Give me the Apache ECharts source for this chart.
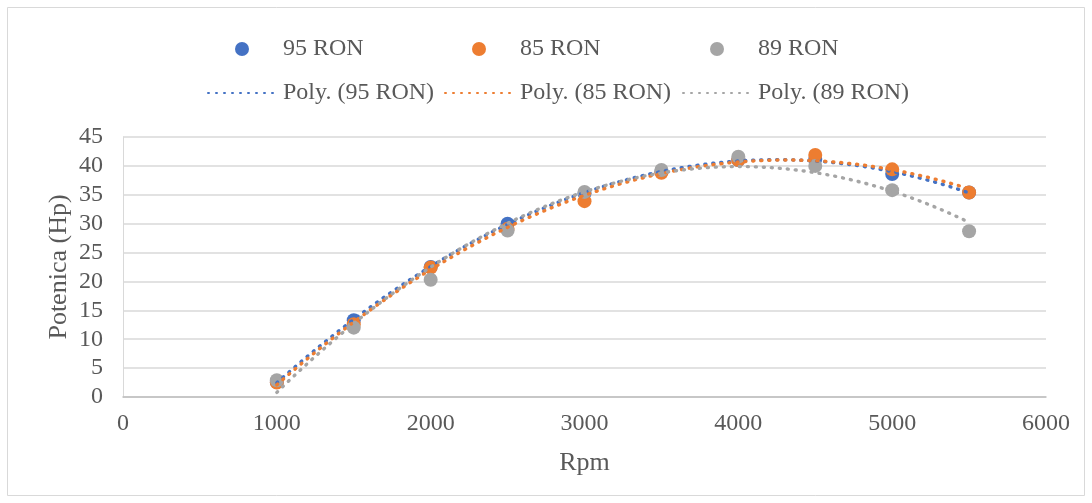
<!DOCTYPE html>
<html>
<head>
<meta charset="utf-8">
<script src="https://cdn.jsdelivr.net/npm/echarts@6/dist/echarts.min.js"></script>
<style>
  html, body { margin: 0; padding: 0; background: #fff; }
  #chart { width: 1092px; height: 503px; }
</style>
</head>
<body>
<div id="chart"></div>
<script>
// Engine speed (rpm) and measured power (Hp) for three fuel grades
const rpm = [1000, 1500, 2000, 2500, 3000, 3500, 4000, 4500, 5000, 5500];
const ron95 = [2.6, 13.3, 22.5, 30.0, 35.2, 39.0, 41.0, 41.2, 38.6, 35.4];
const ron85 = [2.5, 12.6, 22.4, 29.1, 33.9, 38.8, 41.0, 41.9, 39.4, 35.4];
const ron89 = [2.9, 12.0, 20.3, 28.8, 35.5, 39.3, 41.6, 40.0, 35.8, 28.7];

const xTicks = [0, 1000, 2000, 3000, 4000, 5000, 6000];
const yTicks = [0, 5, 10, 15, 20, 25, 30, 35, 40, 45];

const seriesNames = ['95 RON', '85 RON', '89 RON'];
const trendNames = ['Poly. (95 RON)', 'Poly. (85 RON)', 'Poly. (89 RON)'];
const colors = ['#4472C4', '#ED7D31', '#A5A5A5'];

// Least-squares 2nd order polynomial fit, returns [a0, a1, a2]
function polyFit2(xs, ys) {
  const n = xs.length;
  let s = [0, 0, 0, 0, 0], t = [0, 0, 0];
  for (let i = 0; i < n; i++) {
    const x = xs[i] / 1000, y = ys[i];
    let p = 1;
    for (let k = 0; k < 5; k++) { s[k] += p; if (k < 3) t[k] += p * y; p *= x; }
  }
  const A = [[s[0], s[1], s[2], t[0]], [s[1], s[2], s[3], t[1]], [s[2], s[3], s[4], t[2]]];
  for (let c = 0; c < 3; c++) {
    for (let r = c + 1; r < 3; r++) {
      const f = A[r][c] / A[c][c];
      for (let k = c; k < 4; k++) A[r][k] -= f * A[c][k];
    }
  }
  const a = [0, 0, 0];
  for (let r = 2; r >= 0; r--) {
    let v = A[r][3];
    for (let k = r + 1; k < 3; k++) v -= A[r][k] * a[k];
    a[r] = v / A[r][r];
  }
  return a;
}

function trendPoints(xs, ys) {
  const a = polyFit2(xs, ys);
  const pts = [];
  for (let x = xs[0]; x <= xs[xs.length - 1]; x += 25) {
    const u = x / 1000;
    pts.push([x, a[0] + a[1] * u + a[2] * u * u]);
  }
  return pts;
}

const values = [ron95, ron85, ron89];
const font = "'Liberation Serif', 'Times New Roman', serif";
const textColor = '#595959';
const dotted = [1, 7];

const scatterSeries = values.map((v, i) => ({
  name: seriesNames[i],
  type: 'scatter',
  data: rpm.map((x, j) => [x, v[j]]),
  symbol: 'circle',
  symbolSize: 14,
  itemStyle: { color: colors[i], opacity: 1 },
  z: 2
}));

const trendSeries = values.map((v, i) => ({
  name: trendNames[i],
  type: 'line',
  data: trendPoints(rpm, v),
  symbol: 'none',
  lineStyle: { color: colors[i], width: 3.4, type: dotted, cap: 'round' },
  itemStyle: { color: colors[i] },
  z: 3
}));

// One legend entry per slot so the three columns line up across both rows
const columnLeft = [207, 444, 682];
const legendBase = {
  itemGap: 0,
  padding: 0,
  selectedMode: false
};
const legends = [];
seriesNames.forEach((name, i) => {
  legends.push(Object.assign({}, legendBase, {
    left: columnLeft[i] + 28, top: 37,
    itemWidth: 14, itemHeight: 14,
    textStyle: { fontFamily: font, fontSize: 24, color: textColor, padding: [0, 0, 0, 29] },
    data: [{ name: name, icon: 'circle' }]
  }));
});
trendNames.forEach((name, i) => {
  legends.push(Object.assign({}, legendBase, {
    left: columnLeft[i], top: 81,
    itemWidth: 70, itemHeight: 14,
    textStyle: { fontFamily: font, fontSize: 24, color: textColor },
    data: [name],
    itemStyle: { opacity: 0 }
  }));
});

const chart = echarts.init(document.getElementById('chart'), null, { renderer: 'canvas' });
chart.setOption({
  backgroundColor: '#ffffff',
  animation: false,
  graphic: [{
    type: 'rect',
    shape: { x: 7.5, y: 7.5, width: 1077, height: 488 },
    style: { fill: 'none', stroke: '#d9d9d9', lineWidth: 1 },
    silent: true
  }],
  legend: legends,
  grid: { left: 123, right: 46, top: 137, bottom: 106 },
  xAxis: {
    type: 'value',
    min: xTicks[0],
    max: xTicks[xTicks.length - 1],
    interval: 1000,
    name: 'Rpm',
    nameLocation: 'middle',
    nameGap: 53,
    nameMoveOverlap: false,
    nameTextStyle: { fontFamily: font, fontSize: 26, color: textColor },
    axisLine: { show: true, lineStyle: { color: '#bfbfbf', width: 1.5 } },
    axisTick: { show: false },
    splitLine: { show: false },
    axisLabel: { fontFamily: font, fontSize: 24, color: textColor, margin: 15, formatter: v => String(v) }
  },
  yAxis: {
    type: 'value',
    min: yTicks[0],
    max: yTicks[yTicks.length - 1],
    interval: 5,
    name: 'Potenica (Hp)',
    nameLocation: 'middle',
    nameGap: 51,
    nameMoveOverlap: false,
    nameTextStyle: { fontFamily: font, fontSize: 26, color: textColor },
    axisLine: { show: true, lineStyle: { color: '#d9d9d9', width: 1 } },
    axisTick: { show: false },
    splitLine: { show: true, lineStyle: { color: '#d9d9d9', width: 1.5 } },
    axisLabel: { fontFamily: font, fontSize: 24, color: textColor, margin: 20, formatter: v => String(v) }
  },
  series: scatterSeries.concat(trendSeries)
});
</script>
</body>
</html>
